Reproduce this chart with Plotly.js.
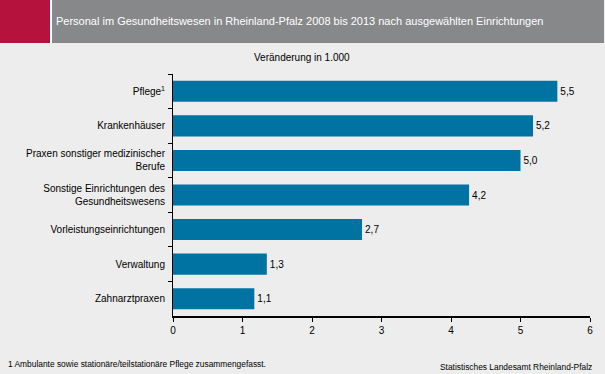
<!DOCTYPE html>
<html>
<head>
<meta charset="utf-8">
<script src="https://cdn.plot.ly/plotly-3.0.1.min.js"></script>
<style>html,body{margin:0;padding:0;background:#ECEDEC;}#chart{width:605px;height:374px;}</style>
</head>
<body>
<div id="chart"></div>
<script>
const categories = ["Pflege<sup>1</sup>", "Krankenhäuser", "Praxen sonstiger medizinischer<br>Berufe", "Sonstige Einrichtungen des<br>Gesundheitswesens", "Vorleistungseinrichtungen", "Verwaltung", "Zahnarztpraxen"];
const values = [5.53, 5.18, 5.0, 4.26, 2.72, 1.35, 1.17];
const valueLabels = ["5,5", "5,2", "5,0", "4,2", "2,7", "1,3", "1,1"];
const xTicks = [0, 1, 2, 3, 4, 5, 6];
const titleText = "Personal im Gesundheitswesen in Rheinland-Pfalz 2008 bis 2013 nach ausgewählten Einrichtungen";
const subtitleText = "Veränderung in 1.000";
const footnoteText = "1 Ambulante sowie stationäre/teilstationäre Pflege zusammengefasst.";
const sourceText = "Statistisches Landesamt Rheinland-Pfalz";

const W = 605, H = 374;
const M = {l: 173, r: 15, t: 74, b: 58};
const PW = W - M.l - M.r, PH = H - M.t - M.b;
const px = x => (x - M.l) / PW;
const py = y => (H - M.b - y) / PH;
const font = "Liberation Sans, Arial, sans-serif";

const trace = {
  type: "bar",
  orientation: "h",
  y: categories,
  x: values,
  text: valueLabels,
  textposition: "outside",
  cliponaxis: false,
  textfont: {family: font, size: 10, color: "#000"},
  marker: {color: "#0073a3", line: {width: 0}},
  hoverinfo: "skip"
};

const layout = {
  width: W, height: H,
  margin: M,
  paper_bgcolor: "#ECEDEC",
  plot_bgcolor: "#ECEDEC",
  showlegend: false,
  bargap: 0.39,
  font: {family: font, size: 10, color: "#000"},
  xaxis: {
    range: [0, 6], tickvals: xTicks, ticktext: xTicks.map(String),
    showgrid: false, zeroline: false,
    showline: true, linecolor: "#000", linewidth: 2,
    ticks: "outside", ticklen: 4, tickwidth: 1, tickcolor: "#000",
    tickfont: {family: font, size: 10, color: "#000"}, fixedrange: true
  },
  yaxis: {
    type: "category", range: [6.5, -0.5],
    showgrid: false, zeroline: false,
    showline: true, linecolor: "#000", linewidth: 1,
    ticks: "outside", ticklen: 4, tickcolor: "#000", tickson: "boundaries",
    ticklabelstandoff: 5,
    tickfont: {family: font, size: 10, color: "#000"}, fixedrange: true
  },
  shapes: [
    {type: "rect", xref: "paper", yref: "paper", x0: px(0), x1: px(50), y0: py(0), y1: py(43), fillcolor: "#B5123E", line: {width: 0}, layer: "below"},
    {type: "rect", xref: "paper", yref: "paper", x0: px(50), x1: px(52), y0: py(0), y1: py(43), fillcolor: "#FFFFFF", line: {width: 0}, layer: "below"},
    {type: "rect", xref: "paper", yref: "paper", x0: px(52), x1: px(604), y0: py(0), y1: py(43), fillcolor: "#878889", line: {width: 0}, layer: "below"}
  ],
  annotations: [
    {xref: "paper", yref: "paper", x: px(54), y: py(21.5), xanchor: "left", yanchor: "middle", showarrow: false,
     text: titleText, font: {family: font, size: 11, color: "#FFFFFF"}},
    {xref: "paper", yref: "paper", x: px(302), y: py(57.5), xanchor: "center", yanchor: "middle", showarrow: false,
     text: subtitleText, font: {family: font, size: 10, color: "#000"}},
    {xref: "paper", yref: "paper", x: px(6), y: py(364), xanchor: "left", yanchor: "middle", showarrow: false,
     text: footnoteText, font: {family: font, size: 8.4, color: "#000"}},
    {xref: "paper", yref: "paper", x: px(594), y: py(367), xanchor: "right", yanchor: "middle", showarrow: false,
     text: sourceText, font: {family: font, size: 8.4, color: "#000"}}
  ]
};

Plotly.newPlot("chart", [trace], layout, {staticPlot: true, displayModeBar: false});
</script>
</body>
</html>
